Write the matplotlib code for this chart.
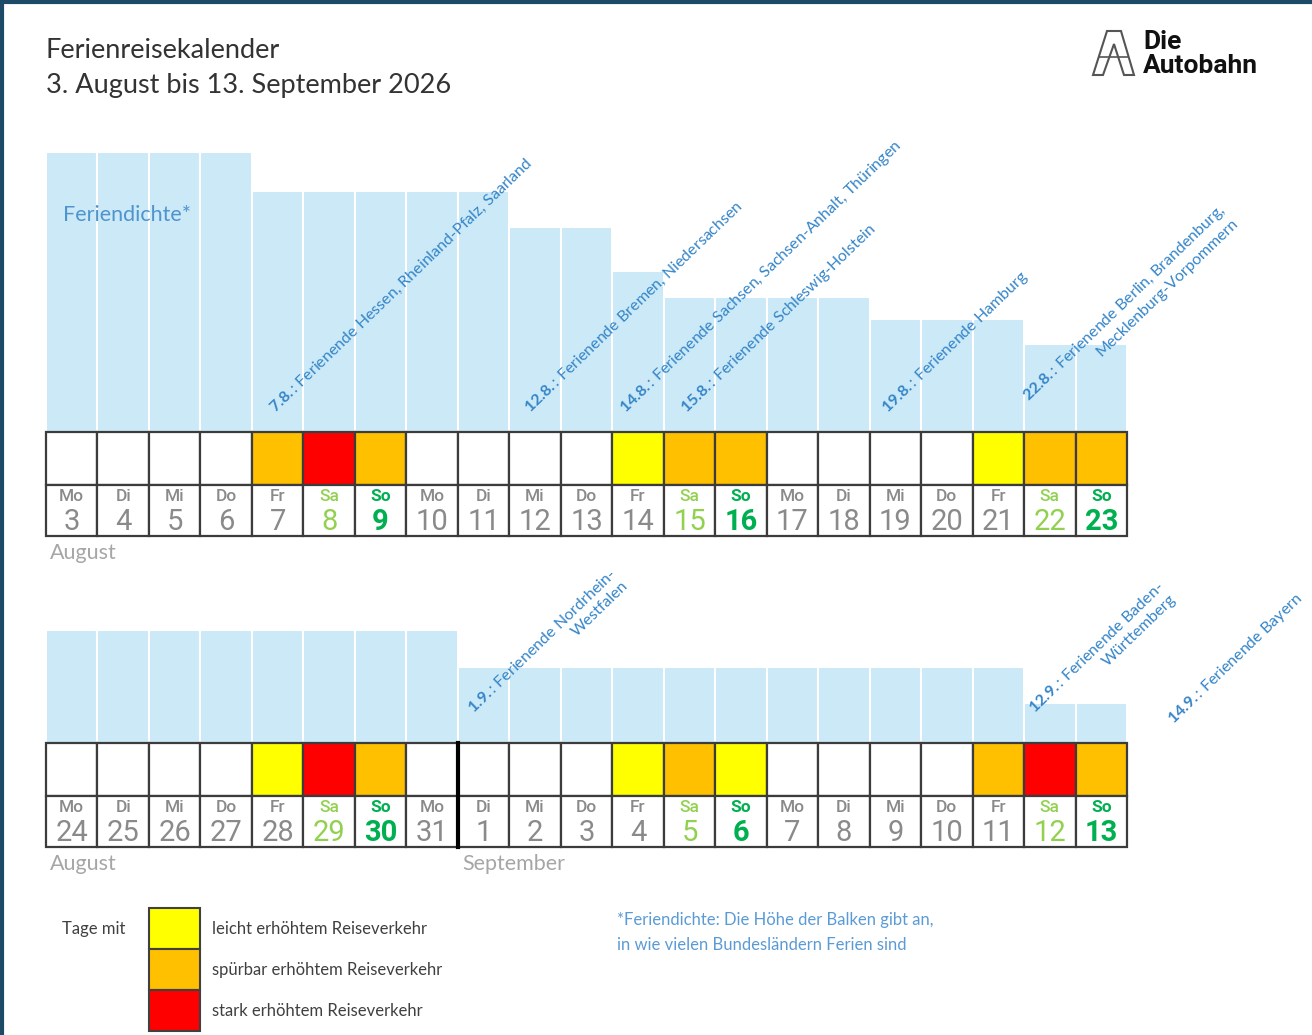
import numpy as np
import matplotlib
matplotlib.use("Agg")
import matplotlib.pyplot as plt
from matplotlib.patches import Rectangle, Polygon

plt.rcParams['font.family'] = ['Lato', 'DejaVu Sans']
plt.rcParams['mathtext.fontset'] = 'custom'
plt.rcParams['mathtext.rm'] = 'Lato'
plt.rcParams['mathtext.bf'] = 'Lato:bold'
plt.rcParams['mathtext.it'] = 'Lato:italic'

# ---- data ----
weekdays = ["Mo", "Di", "Mi", "Do", "Fr", "Sa", "So"] * 3

days1 = list(range(3, 24))
dichte1 = [14.0] * 4 + [12.05] * 5 + [10.25] * 2 + [8.05] + [6.75] * 4 + [5.65] * 3 + [4.4] * 2
verkehr1 = [0, 0, 0, 0, 2, 3, 2, 0, 0, 0, 0, 1, 2, 2, 0, 0, 0, 0, 1, 2, 2]

days2 = list(range(24, 32)) + list(range(1, 14))
dichte2 = [5.65] * 8 + [3.8] * 11 + [2.0] * 2
verkehr2 = [0, 0, 0, 0, 1, 3, 2, 0, 0, 0, 0, 1, 2, 1, 0, 0, 0, 0, 2, 3, 2]

# (position in day cells, bold date, text)
notes1 = [
    (4.45, "7.8.", "Ferienende Hessen, Rheinland-Pfalz, Saarland"),
    (9.40, "12.8.", "Ferienende Bremen, Niedersachsen"),
    (11.25, "14.8.", "Ferienende Sachsen, Sachsen-Anhalt, Thüringen"),
    (12.45, "15.8.", "Ferienende Schleswig-Holstein"),
    (16.35, "19.8.", "Ferienende Hamburg"),
    (19.30, "22.8.", "Ferienende Berlin, Brandenburg,\nMecklenburg-Vorpommern"),
]
notes2 = [
    (8.50, "1.9.", "Ferienende Nordrhein-\nWestfalen"),
    (19.40, "12.9.", "Ferienende Baden-\nWürttemberg"),
    (21.90, "14.9.", "Ferienende Bayern"),
]
months1 = [(0, "August")]
months2 = [(0, "August"), (8, "September")]

level_colors = ["white", "#ffff00", "#ffc000", "#ff0000"]
level_labels = ["leicht erhöhtem Reiseverkehr",
                "spürbar erhöhtem Reiseverkehr",
                "stark erhöhtem Reiseverkehr"]

bar_color = "#cbe9f7"
note_color = "#3585c8"
grid_color = "#3c3c3c"

W, H = 1312, 1035
fig = plt.figure(figsize=(W / 100, H / 100), dpi=100)

# background axes in pixel units for title, logo, legend
bg = fig.add_axes([0, 0, 1, 1])
bg.set_xlim(0, W)
bg.set_ylim(H, 0)
bg.axis("off")

bg.plot([1.5, 1.5], [0, H], color="#1d4a66", lw=3)
bg.plot([0, W], [1.5, 1.5], color="#1d4a66", lw=3)

bg.text(46, 50, "Ferienreisekalender", fontsize=19.5, color="#333333", va="center")
bg.text(46, 86, "3. August bis 13. September 2026", fontsize=19.5, color="#333333", va="center")

# logo
bg.add_patch(Polygon([(1093, 75), (1107, 31), (1121, 31), (1134, 75), (1124, 75),
                      (1114, 44), (1103, 75)], closed=True, fill=False,
                     ec="#555555", lw=1.5))
bg.plot([1099, 1128], [57, 57], color="#555555", lw=1.2)
bg.text(1143, 42, "Die", fontsize=19, fontweight="bold", family="Roboto",
        color="#111111", va="center")
bg.text(1143, 66, "Autobahn", fontsize=19, fontweight="bold", family="Roboto",
        color="#111111", va="center")

# legend
bg.text(62, 929, "Tage mit", fontsize=12, color="#404040", va="center")
for k, lab in enumerate(level_labels):
    y0 = 908 + k * 41
    bg.add_patch(Rectangle((149, y0), 51, 41, fc=level_colors[k + 1], ec="#404040", lw=1.5))
    bg.text(212, y0 + 21, lab, fontsize=12, color="#404040", va="center")

bg.text(617, 920, "*Feriendichte: Die Höhe der Balken gibt an,", fontsize=12,
        color="#5b9bd5", va="center")
bg.text(617, 945, "in wie vielen Bundesländern Ferien sind", fontsize=12,
        color="#5b9bd5", va="center")


def draw_row(ax, days, dichte, verkehr, notes, months, sep=None):
    n = len(days)
    x = np.arange(n)
    ax.bar(x + 0.5, dichte, width=1, color=bar_color, edgecolor="white", linewidth=1.5)
    for i in range(n):
        ax.add_patch(Rectangle((i, -2.65), 1, 2.65, fc=level_colors[verkehr[i]],
                               ec=grid_color, lw=1.6, clip_on=False))
        ax.add_patch(Rectangle((i, -5.2), 1, 2.55, fc="white",
                               ec=grid_color, lw=1.6, clip_on=False))
        wd = weekdays[i]
        if wd == "Sa":
            c, fw = "#92d050", "normal"
        elif wd == "So":
            c, fw = "#00b050", "bold"
        else:
            c, fw = "#8a8a8a", "normal"
        ax.text(i + 0.5, -3.25, wd, ha="center", va="center", fontsize=12.5,
                family="Roboto", color=c, fontweight="bold" if wd == "So" else "medium")
        ax.text(i + 0.5, -4.5, str(days[i]), ha="center", va="center", fontsize=21,
                family="Roboto", color=c, fontweight=fw)
    if sep is not None:
        ax.plot([sep, sep], [-5.2, 0], color="black", lw=3, clip_on=False, zorder=5)
    for pos, date, txt in notes:
        ax.text(pos, 0.95, r"$\mathbf{" + date + "}$: " + txt,
                rotation=44, rotation_mode="anchor", ha="left", va="baseline",
                multialignment="right", fontsize=11.5, color=note_color, clip_on=False)
    for pos, name in months:
        ax.text(pos + 0.08, -6.05, name, ha="left", va="center", fontsize=15.5,
                color="#a6a6a6")
    ax.set_xlim(0, n)
    ax.axis("off")


ax1 = fig.add_axes([46 / W, 1 - 536 / H, 1081 / W, 396 / H])
ax1.set_ylim(-5.2, 14.6)
draw_row(ax1, days1, dichte1, verkehr1, notes1, months1)
ax1.text(0.33, 10.85, "Feriendichte*", fontsize=15.5, color="#4f94cd", va="center")

ax2 = fig.add_axes([46 / W, 1 - 847 / H, 1081 / W, 244 / H])
ax2.set_ylim(-5.2, 7.0)
draw_row(ax2, days2, dichte2, verkehr2, notes2, months2, sep=8)

fig.savefig("out.png", dpi=100)
